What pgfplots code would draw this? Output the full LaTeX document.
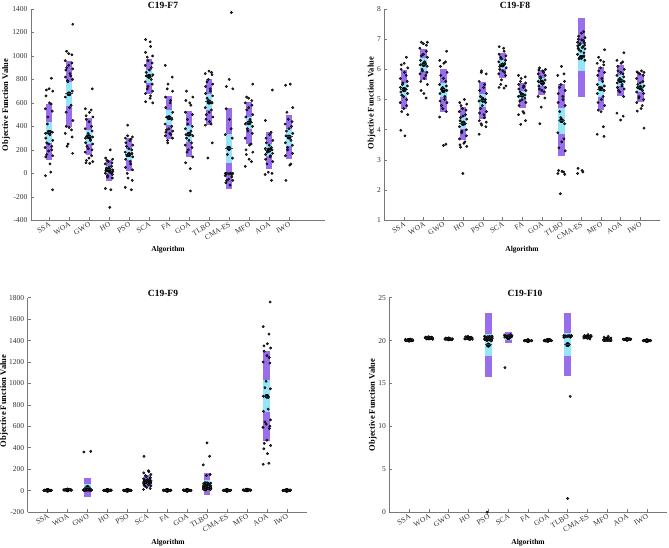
\documentclass[border=0pt]{standalone}
\usepackage{fontspec}
\setmainfont{Liberation Serif}
\usepackage{pgfplots}
\usepackage{pgfplotstable}
\pgfplotsset{compat=1.18}
\definecolor{purp}{RGB}{152,110,236}
\definecolor{cyanb}{RGB}{150,228,248}
\definecolor{meanc}{RGB}{25,70,90}
\definecolor{dotc}{RGB}{50,50,50}
\definecolor{axc}{RGB}{120,120,120}
\definecolor{tickc}{RGB}{50,50,50}

\newcommand\tf{\fontsize{7.5}{8}\selectfont}
\newcommand\lf{\fontsize{7.5}{8}\selectfont\bfseries}

\pgfplotsset{panel/.style={
  scale only axis, axis lines=left, axis line style={-, draw=axc, line width=0.5pt},
  tick align=inside, major tick length=3pt, tick style={draw=axc, line width=0.5pt},
  xtick={1,...,13},
  xticklabels={SSA,WOA,GWO,HO,PSO,SCA,FA,GOA,TLBO,CMA-ES,MFO,AOA,IWO},
  xticklabel style={rotate=30, anchor=north east, font=\tf, text=tickc, inner sep=1pt},
  yticklabel style={font=\tf, text=tickc},
  /pgf/number format/assume math mode=true,
  /pgf/number format/1000 sep={},
  xlabel={Algorithm}, ylabel={Objective Function Value},
  xlabel style={font=\lf, text=black},
  ylabel style={font=\fontsize{8.5}{9}\selectfont\bfseries, text=black},
  every axis title shift=0pt,
  title style={font=\fontsize{9.5}{10}\selectfont\bfseries, inner sep=0pt, anchor=center},
  clip=false,
}}

\newcommand\pts[2]{\addplot[only marks, mark=*, mark size=1.2pt, mark options={draw=none, fill=dotc}] table[row sep=\\, x expr={#1+0.19*sin(\coordindex*137.5+#1*40)}, y=y]{y\\#2};}

\newcommand\boxes[1]{%
\addplot[only marks, mark=none, error bars/.cd, y dir=both, y explicit, error mark=none, error bar style={line width=6.8pt, draw=purp}] table[x=c, y expr={(\thisrow{sdlo}+\thisrow{sdhi})/2}, y error plus expr={(\thisrow{sdhi}-\thisrow{sdlo})/2}, y error minus expr={(\thisrow{sdhi}-\thisrow{sdlo})/2}]{#1};
\addplot[only marks, mark=none, error bars/.cd, y dir=both, y explicit, error mark=none, error bar style={line width=6.8pt, draw=cyanb}] table[x=c, y expr={(\thisrow{cilo}+\thisrow{cihi})/2}, y error plus expr={(\thisrow{cihi}-\thisrow{cilo})/2}, y error minus expr={(\thisrow{cihi}-\thisrow{cilo})/2}]{#1};
\addplot[only marks, mark=-, mark size=3.6pt, mark options={line width=0.9pt, draw=meanc}] table[x=c, y=m]{#1};
}

\pgfplotstableread{
c sdlo sdhi cilo cihi m
1 110 590 260 440 350
2 395 960 575 780 680
3 155 470 250 370 310
4 -65 115 0 60 30
5 20 300 110 210 160
6 680 975 770 880 825
7 290 655 410 540 475
8 140 530 265 400 335
9 410 800 540 680 610
10 -130 555 90 335 215
11 250 610 380 480 430
12 40 350 150 250 195
13 120 500 235 380 310
}\statsA

\pgfplotstableread{
c sdlo sdhi cilo cihi m
1 4.70 5.98 5.10 5.55 5.33
2 5.65 6.67 5.95 6.38 6.16
3 4.58 6.00 5.10 5.55 5.33
4 3.65 4.75 4.02 4.43 4.22
5 4.37 5.58 4.75 5.20 4.96
6 5.73 6.55 6.00 6.30 6.15
7 4.73 5.55 5.03 5.27 5.15
8 5.15 5.98 5.45 5.72 5.57
9 3.12 5.50 3.87 4.73 4.31
10 5.10 7.70 5.95 6.85 6.40
11 4.65 6.08 5.10 5.60 5.35
12 5.12 6.13 5.45 5.80 5.62
13 4.93 5.85 5.25 5.55 5.40
}\statsB

\pgfplotstableread{
c sdlo sdhi cilo cihi m
1 1 3 2 2 2
2 4 8 6 6 6
3 -62 120 -3 60 29
4 1 3 2 2 2
5 1 3 2 2 2
6 35 145 72 108 90
7 1 3 2 2 2
8 1 3 2 2 2
9 -38 162 28 98 63
10 1 3 2 2 2
11 3 7 5 5 5
12 460 1300 730 1030 880
13 1 3 2 2 2
}\statsC

\pgfplotstableread{
c sdlo sdhi cilo cihi m
1 19.95 20.15 20.02 20.08 20.05
2 20.15 20.45 20.25 20.35 20.30
3 20.10 20.30 20.17 20.23 20.20
4 20.10 20.50 20.25 20.35 20.30
5 15.80 23.20 18.15 20.75 19.50
6 19.70 21.00 20.10 20.60 20.35
7 20.00 20.00 20.00 20.00 20.00
8 19.95 20.10 20.00 20.05 20.02
9 15.90 23.20 18.20 20.85 19.55
10 20.20 20.60 20.35 20.45 20.40
11 20.00 20.40 20.15 20.25 20.20
12 20.10 20.20 20.13 20.17 20.15
13 20.00 20.00 20.00 20.00 20.00
}\statsD

\begin{document}
\begin{tikzpicture}
\useasboundingbox (0,0) rectangle (669pt,548pt);

% ---------------- C19-F7
\begin{axis}[panel, at={(31pt,327.7pt)}, anchor=south west, width=294pt, height=211.3pt,
  xmin=0.1, xmax=14.8, ymin=-400, ymax=1400, ytick={-400,-200,...,1400},
  title={C19-F7}, title style={at={(axis description cs:0.449,1)}, yshift=4pt},
  xlabel style={at={(axis description cs:0.466,0)}, yshift=-29.7pt, anchor=center, inner sep=0pt},
  ylabel style={at={(axis description cs:-0.085,0.546)}, anchor=center, inner sep=0pt}]
\boxes{\statsA}
\pts{1}{810\\720\\710\\700\\660\\600\\590\\550\\530\\480\\420\\350\\340\\355\\330\\300\\280\\260\\250\\230\\220\\200\\190\\160\\150\\140\\80\\10\\-20\\-140\\}
\pts{2}{1270\\1040\\1020\\1010\\960\\940\\920\\900\\890\\880\\850\\830\\820\\800\\790\\780\\700\\650\\580\\560\\520\\450\\400\\390\\370\\340\\310\\250\\230\\170\\}
\pts{3}{720\\550\\540\\520\\490\\480\\460\\440\\400\\380\\360\\340\\320\\310\\300\\290\\280\\260\\250\\230\\210\\200\\180\\150\\130\\110\\100\\90\\85\\}
\pts{4}{200\\130\\120\\110\\100\\90\\80\\60\\50\\40\\30\\20\\10\\5\\0\\-10\\-20\\-30\\-40\\-130\\-140\\-290\\25\\15\\45\\}
\pts{5}{410\\320\\310\\300\\290\\280\\260\\240\\230\\210\\200\\180\\170\\160\\150\\140\\120\\100\\80\\50\\30\\0\\-40\\-60\\-120\\-140\\}
\pts{6}{1140\\1120\\1080\\1030\\1000\\990\\960\\940\\920\\900\\880\\860\\840\\830\\820\\800\\780\\760\\740\\720\\700\\680\\660\\640\\610\\600\\}
\pts{7}{920\\820\\760\\720\\700\\650\\620\\600\\560\\520\\480\\470\\460\\420\\400\\380\\370\\360\\350\\340\\330\\320\\300\\280\\260\\}
\pts{8}{700\\650\\620\\600\\580\\520\\500\\460\\420\\400\\380\\360\\340\\330\\320\\300\\280\\260\\240\\220\\200\\180\\140\\90\\40\\-150\\}
\pts{9}{870\\860\\850\\840\\800\\780\\760\\740\\720\\700\\680\\660\\640\\620\\600\\560\\540\\520\\500\\480\\460\\440\\420\\410\\260\\130\\}
\pts{10}{1370\\800\\740\\720\\550\\460\\380\\330\\300\\220\\160\\130\\0\\0\\0\\0\\0\\0\\-5\\-10\\-20\\-30\\-50\\-60\\-60\\-80\\-100\\}
\pts{11}{760\\650\\640\\620\\600\\580\\560\\540\\500\\480\\460\\440\\420\\400\\380\\360\\340\\300\\250\\240\\200\\180\\160\\120\\100\\60\\}
\pts{12}{710\\450\\350\\330\\300\\280\\260\\240\\220\\210\\200\\190\\180\\170\\160\\150\\140\\120\\100\\80\\10\\0\\-10\\-60\\}
\pts{13}{760\\750\\560\\520\\460\\440\\420\\400\\380\\360\\340\\320\\300\\280\\260\\240\\220\\200\\170\\150\\80\\70\\-60\\}
\end{axis}

% ---------------- C19-F8
\begin{axis}[panel, at={(384.3pt,327.7pt)}, anchor=south west, width=275.7pt, height=211.3pt,
  xmin=0, xmax=14, ymin=1, ymax=8, ytick={1,...,8},
  title={C19-F8}, title style={at={(axis description cs:0.474,1)}, yshift=4pt},
  xlabel style={at={(axis description cs:0.4995,0)}, yshift=-29.7pt, anchor=center, inner sep=0pt},
  ylabel style={at={(axis description cs:-0.0457,0.555)}, anchor=center, inner sep=0pt}]
\boxes{\statsB}
\pts{1}{6.4\\6.2\\6.15\\6.05\\6.0\\5.9\\5.8\\5.7\\5.6\\5.55\\5.5\\5.45\\5.4\\5.35\\5.3\\5.25\\5.2\\5.15\\5.1\\5.0\\4.9\\4.8\\4.7\\4.6\\4.5\\3.98\\3.8\\}
\pts{2}{6.9\\6.9\\6.85\\6.8\\6.7\\6.6\\6.5\\6.45\\6.4\\6.3\\6.25\\6.2\\6.15\\6.1\\6.0\\5.95\\5.9\\5.85\\5.8\\5.7\\5.6\\5.5\\5.3\\5.2\\5.05\\}
\pts{3}{6.6\\6.3\\6.25\\6.2\\6.1\\5.9\\5.8\\5.7\\5.6\\5.5\\5.45\\5.4\\5.35\\5.3\\5.2\\5.1\\5.0\\4.95\\4.9\\4.8\\4.7\\4.6\\4.42\\3.52\\3.48\\}
\pts{4}{5.0\\4.9\\4.85\\4.8\\4.7\\4.65\\4.6\\4.5\\4.45\\4.4\\4.35\\4.3\\4.25\\4.2\\4.1\\4.0\\3.95\\3.9\\3.8\\3.7\\3.6\\3.55\\3.5\\3.45\\3.42\\2.55\\}
\pts{5}{5.95\\5.9\\5.85\\5.6\\5.5\\5.4\\5.3\\5.2\\5.1\\5.05\\5.0\\4.95\\4.9\\4.8\\4.7\\4.6\\4.55\\4.5\\4.4\\4.3\\4.25\\4.2\\4.15\\4.1\\3.85\\}
\pts{6}{6.75\\6.7\\6.6\\6.5\\6.45\\6.4\\6.35\\6.3\\6.25\\6.2\\6.15\\6.1\\6.05\\6.0\\5.95\\5.9\\5.85\\5.8\\5.65\\5.5\\5.45\\5.4\\5.38\\}
\pts{7}{5.8\\5.75\\5.7\\5.6\\5.55\\5.5\\5.45\\5.4\\5.35\\5.3\\5.25\\5.2\\5.15\\5.1\\5.05\\5.0\\4.95\\4.9\\4.8\\4.6\\4.55\\4.5\\4.3\\4.18\\}
\pts{8}{6.05\\6.0\\5.98\\5.95\\5.9\\5.85\\5.8\\5.75\\5.7\\5.65\\5.6\\5.55\\5.5\\5.45\\5.4\\5.35\\5.3\\5.25\\5.1\\5.05\\4.75\\4.2\\}
\pts{9}{6.1\\5.85\\5.8\\5.6\\5.5\\5.4\\5.3\\5.2\\5.1\\5.0\\4.9\\4.8\\4.6\\4.4\\4.2\\3.9\\3.7\\3.6\\3.4\\3.3\\2.65\\2.62\\2.6\\2.55\\2.52\\1.88\\}
\pts{10}{7.25\\7.2\\7.1\\7.05\\7.0\\6.98\\6.95\\6.9\\6.88\\6.85\\6.82\\6.8\\6.78\\6.75\\6.72\\6.7\\6.68\\6.65\\6.6\\6.55\\6.5\\6.45\\6.4\\6.35\\6.3\\2.72\\2.65\\2.6\\2.55\\}
\pts{11}{6.65\\6.4\\6.3\\6.25\\6.2\\6.15\\6.05\\5.95\\5.9\\5.8\\5.7\\5.6\\5.5\\5.45\\5.4\\5.35\\5.3\\5.2\\5.1\\5.0\\4.9\\4.8\\4.65\\4.6\\4.1\\3.85\\3.78\\}
\pts{12}{6.55\\6.3\\6.25\\6.2\\6.1\\6.0\\5.95\\5.9\\5.85\\5.8\\5.75\\5.7\\5.65\\5.6\\5.55\\5.5\\5.45\\5.4\\5.35\\5.3\\5.25\\5.1\\4.55\\4.45\\4.32\\}
\pts{13}{5.95\\5.92\\5.9\\5.88\\5.85\\5.8\\5.7\\5.6\\5.55\\5.5\\5.45\\5.4\\5.35\\5.3\\5.25\\5.2\\5.1\\5.05\\5.0\\4.9\\4.8\\4.7\\4.62\\4.05\\}
\end{axis}

% ---------------- C19-F9
\begin{axis}[panel, at={(27.7pt,36pt)}, anchor=south west, width=279pt, height=214.3pt,
  xmin=0, xmax=14, ymin=-200, ymax=1800, ytick={-200,0,...,1800},
  title={C19-F9}, title style={at={(axis description cs:0.485,1)}, yshift=4.4pt},
  xlabel style={at={(axis description cs:0.503,0)}, yshift=-30.7pt, anchor=center, inner sep=0pt},
  ylabel style={at={(axis description cs:-0.085,0.518)}, anchor=center, inner sep=0pt}]
\boxes{\statsC}
\pts{1}{0\\1\\2\\3\\4\\5\\0\\1\\2\\3\\4\\2\\1\\3\\2\\}
\pts{2}{3\\4\\5\\6\\7\\8\\9\\10\\5\\6\\7\\8\\4\\6\\7\\}
\pts{3}{365\\360\\2\\3\\4\\5\\6\\7\\8\\9\\10\\3\\4\\5\\6\\7\\8\\2\\4\\6\\8\\5\\3\\7\\9\\4\\6\\5\\}
\pts{4}{0\\1\\2\\3\\4\\5\\0\\1\\2\\3\\4\\2\\1\\3\\2\\}
\pts{5}{0\\1\\2\\3\\4\\5\\0\\1\\2\\3\\4\\2\\1\\3\\2\\}
\pts{6}{320\\185\\175\\165\\150\\140\\130\\120\\110\\105\\100\\95\\90\\88\\85\\82\\80\\78\\75\\72\\70\\65\\60\\55\\50\\45\\40\\30\\20\\10\\}
\pts{7}{0\\1\\2\\3\\4\\5\\0\\1\\2\\3\\4\\2\\1\\3\\2\\}
\pts{8}{0\\1\\2\\3\\4\\5\\0\\1\\2\\3\\4\\2\\1\\3\\2\\}
\pts{9}{445\\320\\240\\150\\140\\75\\70\\65\\60\\55\\50\\45\\40\\38\\35\\32\\30\\28\\25\\22\\20\\18\\15\\12\\10\\8\\5\\30\\25\\20\\}
\pts{10}{0\\1\\2\\3\\4\\5\\0\\1\\2\\3\\4\\2\\1\\3\\2\\}
\pts{11}{2\\3\\4\\5\\6\\7\\8\\3\\4\\5\\6\\7\\5\\4\\6\\}
\pts{12}{1760\\1530\\1460\\1370\\1350\\1330\\1300\\1260\\1240\\1200\\1190\\1020\\960\\950\\880\\870\\760\\740\\660\\640\\620\\600\\590\\580\\470\\440\\420\\390\\345\\255\\245\\}
\pts{13}{0\\1\\2\\3\\4\\5\\0\\1\\2\\3\\4\\2\\1\\3\\2\\}
\end{axis}

% ---------------- C19-F10
\begin{axis}[panel, at={(389.3pt,35.7pt)}, anchor=south west, width=277.4pt, height=214.6pt,
  xmin=0, xmax=14, ymin=0, ymax=25, ytick={0,5,...,25},
  title={C19-F10}, title style={at={(axis description cs:0.489,1)}, yshift=4.4pt},
  xlabel style={at={(axis description cs:0.5,0)}, yshift=-30.7pt, anchor=center, inner sep=0pt},
  ylabel style={at={(axis description cs:-0.059,0.5)}, anchor=center, inner sep=0pt}]
\boxes{\statsD}
\pts{1}{20.0\\20.0\\20.0\\20.0\\20.0\\20.0\\20.0\\20.0\\20.02\\20.05\\20.08\\20.1\\20.15\\20.2\\20.0\\20.03\\}
\pts{2}{20.15\\20.2\\20.25\\20.3\\20.35\\20.4\\20.45\\20.2\\20.3\\20.4\\20.25\\20.35\\20.3\\20.2\\20.4\\}
\pts{3}{20.1\\20.15\\20.2\\20.25\\20.3\\20.2\\20.15\\20.25\\20.1\\20.2\\20.18\\20.22\\}
\pts{4}{20.1\\20.2\\20.3\\20.4\\20.5\\20.3\\20.2\\20.4\\20.35\\20.25\\20.15\\20.45\\20.3\\}
\pts{5}{0\\20.0\\20.05\\20.1\\20.15\\20.2\\20.25\\20.3\\20.35\\20.4\\20.45\\20.5\\20.0\\20.1\\20.2\\20.3\\20.4\\20.5\\20.05\\20.15\\20.25\\20.35\\20.45\\20.0\\20.2\\20.4\\20.1\\20.3\\20.5\\20.2\\}
\pts{6}{16.85\\20.3\\20.35\\20.4\\20.45\\20.5\\20.55\\20.6\\20.65\\20.7\\20.4\\20.5\\20.6\\20.45\\20.55\\}
\pts{7}{20.0\\20.0\\20.0\\20.0\\20.0\\20.0\\20.0\\20.0\\20.0\\20.0\\20.0\\20.0\\}
\pts{8}{19.95\\20.0\\20.05\\20.1\\20.15\\20.0\\20.0\\20.05\\19.98\\20.02\\20.0\\20.08\\}
\pts{9}{1.6\\13.5\\20.4\\20.45\\20.5\\20.55\\20.6\\20.4\\20.5\\20.6\\20.45\\20.55\\20.5\\20.5\\20.4\\20.6\\20.45\\20.55\\20.5\\20.5\\}
\pts{10}{20.2\\20.3\\20.4\\20.5\\20.6\\20.7\\20.35\\20.45\\20.55\\20.5\\20.4\\20.6\\20.3\\20.5\\}
\pts{11}{20.0\\20.0\\20.0\\20.0\\20.1\\20.1\\20.2\\20.25\\20.3\\20.4\\20.5\\20.0\\20.0\\20.15\\20.05\\}
\pts{12}{20.1\\20.15\\20.2\\20.15\\20.1\\20.2\\20.15\\20.12\\20.18\\20.15\\}
\pts{13}{20.0\\20.0\\20.0\\20.0\\20.0\\20.0\\20.0\\20.0\\20.0\\20.0\\20.0\\20.0\\}
\end{axis}
\end{tikzpicture}
\end{document}
